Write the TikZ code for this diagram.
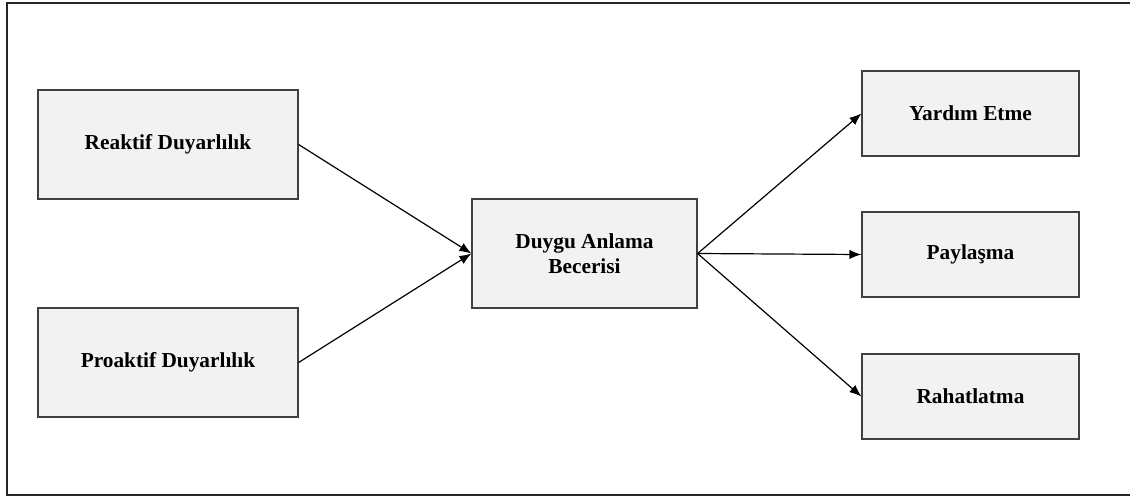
\documentclass[tikz,border=0pt]{standalone}
\usepackage{fontspec}
\setmainfont{Liberation Serif}
\usetikzlibrary{arrows.meta}
\tikzstyle{kutu}=[draw=black!75, fill=black!5, line width=0.9pt, inner sep=0pt,
  align=center, font=\fontsize{16}{19}\selectfont\bfseries]
\tikzstyle{sol} = [kutu, minimum width=195pt, minimum height=81.75pt]
\tikzstyle{orta} = [kutu, minimum width=168.75pt, minimum height=81.75pt]
\tikzstyle{sag} = [kutu, minimum width=162.75pt, minimum height=63.75pt]
\tikzstyle{ok}=[-{Latex[length=9pt,width=7pt]}, line width=0.9pt]
\newcommand{\kutu}[3]{node (k#1) [#2] {#3}}

\begin{document}
\begin{tikzpicture}[x=0.75pt, y=-0.75pt]
  \useasboundingbox (0,0) rectangle (1130,497);
  % frame, open on the right
  \draw [line width=1.1pt, black!85] (1135,3) -- (7,3) -- (7,495) -- (1135,495);

  \path (168,144.5) \kutu{1}{sol}{Reaktif Duyarlılık};
  \path (168,362.5) \kutu{2}{sol}{Proaktif Duyarlılık};
  \path (584.5,253.5) \kutu{3}{orta}{Duygu Anlama\\Becerisi};
  \path (970.5,113.5) \kutu{4}{sag}{Yardım Etme};
  \path (970.5,254.5) \kutu{5}{sag}{Paylaşma};
  \path (970.5,396.5) \kutu{6}{sag}{Rahatlatma};

  \draw [ok] (k1.east) -- (k3.west);
  \draw [ok] (k2.east) -- (k3.west);
  \draw [ok] (k3.east) -- (k4.west);
  \draw [ok] (k3.east) -- (k5.west);
  \draw [ok] (k3.east) -- (k6.west);
\end{tikzpicture}
\end{document}
